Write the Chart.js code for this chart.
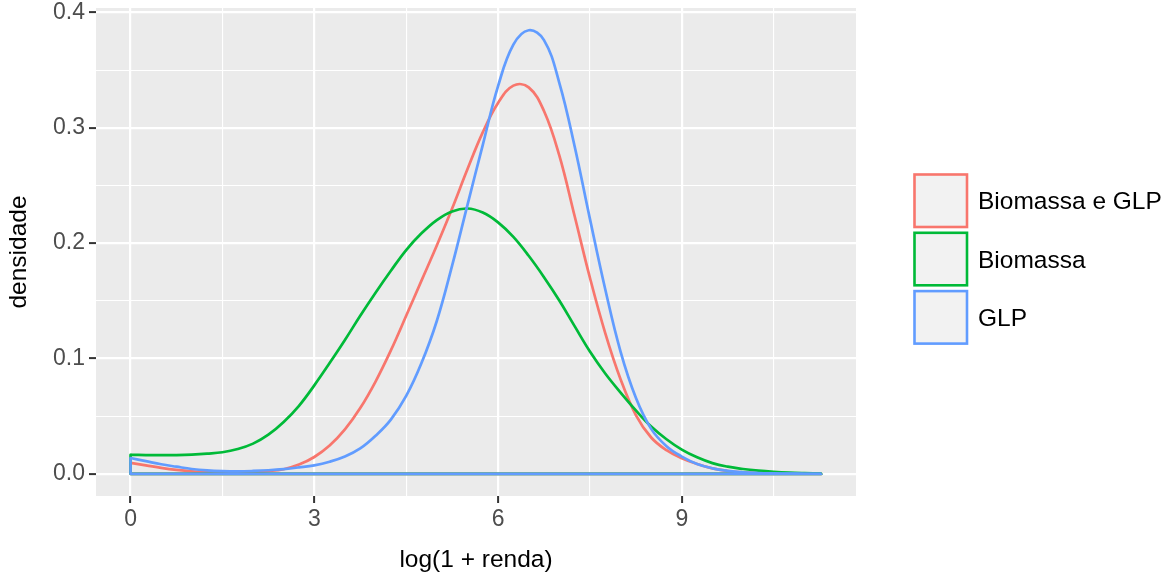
<!DOCTYPE html>
<html lang="pt-BR">
<head>
<meta charset="UTF-8">
<title>Densidade de log(1 + renda)</title>
<script src="https://cdn.jsdelivr.net/npm/chart.js"></script>
<style>
  body { margin: 0; background: #fff; }
  #wrap { width: 1166px; height: 577px; }
</style>
</head>
<body>
<div id="wrap"><canvas id="grafico"></canvas></div>
<script>
// eixo x comum a todas as curvas
const xs = [0, 0.25, 0.5, 0.75, 1, 1.25, 1.5, 1.75, 2, 2.25, 2.5, 2.75, 3, 3.25, 3.5, 3.75,
  4, 4.25, 4.5, 4.75, 5, 5.25, 5.5, 5.75, 6, 6.25, 6.5, 6.75, 7, 7.25, 7.5, 7.75,
  8, 8.25, 8.5, 8.75, 9, 9.25, 9.5, 9.75, 10, 10.25, 10.5, 10.75, 11, 11.28];

const biomassaGlp = [0.0095, 0.0074, 0.0052, 0.0034, 0.0021, 0.0014, 0.0011, 0.0012,
  0.0016, 0.0024, 0.0040, 0.0080, 0.0146, 0.0245, 0.0385, 0.0570,
  0.0800, 0.1070, 0.1370, 0.1675, 0.1980, 0.2300, 0.2640, 0.2960,
  0.3215, 0.3365, 0.3350, 0.3145, 0.2760, 0.2235, 0.1700, 0.1220,
  0.0820, 0.0510, 0.0315, 0.0205, 0.0135, 0.0085, 0.0047, 0.0025,
  0.0013, 0.0007, 0.0004, 0.0002, 0.0001, 0.0001];

const biomassa = [0.0165, 0.0163, 0.0162, 0.0163, 0.0167, 0.0175, 0.0187, 0.0215,
  0.0262, 0.0340, 0.0450, 0.0590, 0.0767, 0.0960, 0.1160, 0.1370,
  0.1570, 0.1760, 0.1940, 0.2085, 0.2200, 0.2275, 0.2300, 0.2265,
  0.2180, 0.2054, 0.1890, 0.1705, 0.1503, 0.1280, 0.1060, 0.0870,
  0.0705, 0.0550, 0.0410, 0.0300, 0.0210, 0.0143, 0.0093, 0.0062,
  0.0042, 0.0028, 0.0018, 0.0011, 0.0007, 0.0004];

const glp = [0.0137, 0.0110, 0.0083, 0.0062, 0.0042, 0.0030, 0.0024, 0.0022,
  0.0025, 0.0031, 0.0041, 0.0056, 0.0074, 0.0105, 0.0150, 0.0220,
  0.0330, 0.0470, 0.0675, 0.0960, 0.1325, 0.1805, 0.2330, 0.2850,
  0.3360, 0.3720, 0.3845, 0.3760, 0.3390, 0.2840, 0.2210, 0.1600,
  0.1060, 0.0660, 0.0390, 0.0240, 0.0150, 0.0086, 0.0048, 0.0026,
  0.0013, 0.0007, 0.0004, 0.0002, 0.0001, 0.0001];

const series = ['Biomassa e GLP', 'Biomassa', 'GLP'];
const cores = ['#F8766D', '#00BA38', '#619CFF'];

const xTicks = [0, 3, 6, 9];
const xMinor = [1.5, 4.5, 7.5, 10.5];
const yTicks = [0, 0.1, 0.2, 0.3, 0.4];
const yLabels = ['0.0', '0.1', '0.2', '0.3', '0.4'];
const yMinor = [0.05, 0.15, 0.25, 0.35];

const fonte = "'Liberation Sans', Arial, sans-serif";

// fundo cinza do painel (estilo ggplot)
const fundoPainel = {
  id: 'fundoPainel',
  beforeDraw(chart) {
    const a = chart.chartArea, ctx = chart.ctx;
    ctx.save();
    ctx.fillStyle = '#EBEBEB';
    ctx.fillRect(a.left, a.top, a.right - a.left, a.bottom - a.top);
    ctx.restore();
  }
};

// legenda com quadrados
const legenda = {
  id: 'legenda',
  afterDraw(chart) {
    const ctx = chart.ctx;
    ctx.save();
    ctx.font = '24.5px ' + fonte;
    ctx.textBaseline = 'middle';
    series.forEach((nome, i) => {
      const y = 174.5 + i * 58.3;
      ctx.fillStyle = '#F2F2F2';
      ctx.fillRect(914.5, y, 52.5, 52.5);
      ctx.strokeStyle = cores[i];
      ctx.lineWidth = 2.6;
      ctx.strokeRect(914.5, y, 52.5, 52.5);
      ctx.fillStyle = '#000';
      ctx.fillText(nome, 978, y + 28);
    });
    ctx.restore();
  }
};

const datasets = [];
[biomassaGlp, biomassa, glp].forEach((ys, i) => {
  const ultimo = xs.length - 1;
  datasets.push({
    label: series[i],
    data: xs.map((x, j) => ({ x: x, y: ys[j] })),
    borderColor: cores[i],
    borderWidth: 2.7,
    pointRadius: 0,
    fill: false,
    tension: 0.4,
    order: (2 - i) * 2 + 1
  });
  // contorno inferior do polígono da densidade
  datasets.push({
    label: series[i] + ' base',
    data: [{ x: xs[0], y: ys[0] }, { x: xs[0], y: 0 }, { x: xs[ultimo], y: 0 }, { x: xs[ultimo], y: ys[ultimo] }],
    borderColor: cores[i],
    borderWidth: 2.7,
    borderJoinStyle: 'round',
    pointRadius: 0,
    fill: false,
    tension: 0,
    order: (2 - i) * 2
  });
});

const ehMaior = (lista, v) => lista.includes(v);

new Chart(document.getElementById('grafico'), {
  type: 'line',
  data: { datasets: datasets },
  plugins: [fundoPainel, legenda],
  options: {
    responsive: true,
    maintainAspectRatio: false,
    animation: false,
    events: [],
    layout: { padding: { top: 8, right: 310, bottom: 0, left: 0 } },
    plugins: { legend: { display: false }, tooltip: { enabled: false } },
    scales: {
      x: {
        type: 'linear',
        min: -0.564,
        max: 11.844,
        afterBuildTicks: ax => { ax.ticks = xTicks.concat(xMinor).sort((a, b) => a - b).map(v => ({ value: v })); },
        afterFit: ax => { ax.height = 81; ax.paddingLeft = 0; ax.paddingRight = 0; },
        ticks: {
          autoSkip: false, maxRotation: 0, padding: 3,
          color: '#4D4D4D', font: { size: 23, family: fonte },
          callback: v => ehMaior(xTicks, v) ? String(v) : ''
        },
        grid: {
          color: '#FFFFFF',
          lineWidth: c => ehMaior(xTicks, c.tick.value) ? 2.2 : 1.1,
          tickColor: c => ehMaior(xTicks, c.tick.value) ? '#333333' : 'rgba(0,0,0,0)',
          tickLength: 7, tickWidth: 2
        },
        border: { display: false },
        title: { display: true, text: 'log(1 + renda)', color: '#000', font: { size: 24.5, family: fonte }, padding: { top: 0, bottom: 2 } }
      },
      y: {
        type: 'linear',
        min: -0.0192,
        max: 0.4038,
        afterBuildTicks: ax => { ax.ticks = yTicks.concat(yMinor).sort((a, b) => a - b).map(v => ({ value: v })); },
        afterFit: ax => { ax.width = 96; ax.paddingTop = 0; ax.paddingBottom = 0; },
        ticks: {
          autoSkip: false, padding: 4,
          color: '#4D4D4D', font: { size: 23, family: fonte },
          callback: v => { const k = yTicks.indexOf(v); return k >= 0 ? yLabels[k] : ''; }
        },
        grid: {
          color: '#FFFFFF',
          lineWidth: c => ehMaior(yTicks, c.tick.value) ? 2.2 : 1.1,
          tickColor: c => ehMaior(yTicks, c.tick.value) ? '#333333' : 'rgba(0,0,0,0)',
          tickLength: 7, tickWidth: 2
        },
        border: { display: false },
        title: { display: true, text: 'densidade', color: '#000', font: { size: 24.5, family: fonte }, padding: { top: 5, bottom: 0 } }
      }
    }
  }
});
</script>
</body>
</html>
